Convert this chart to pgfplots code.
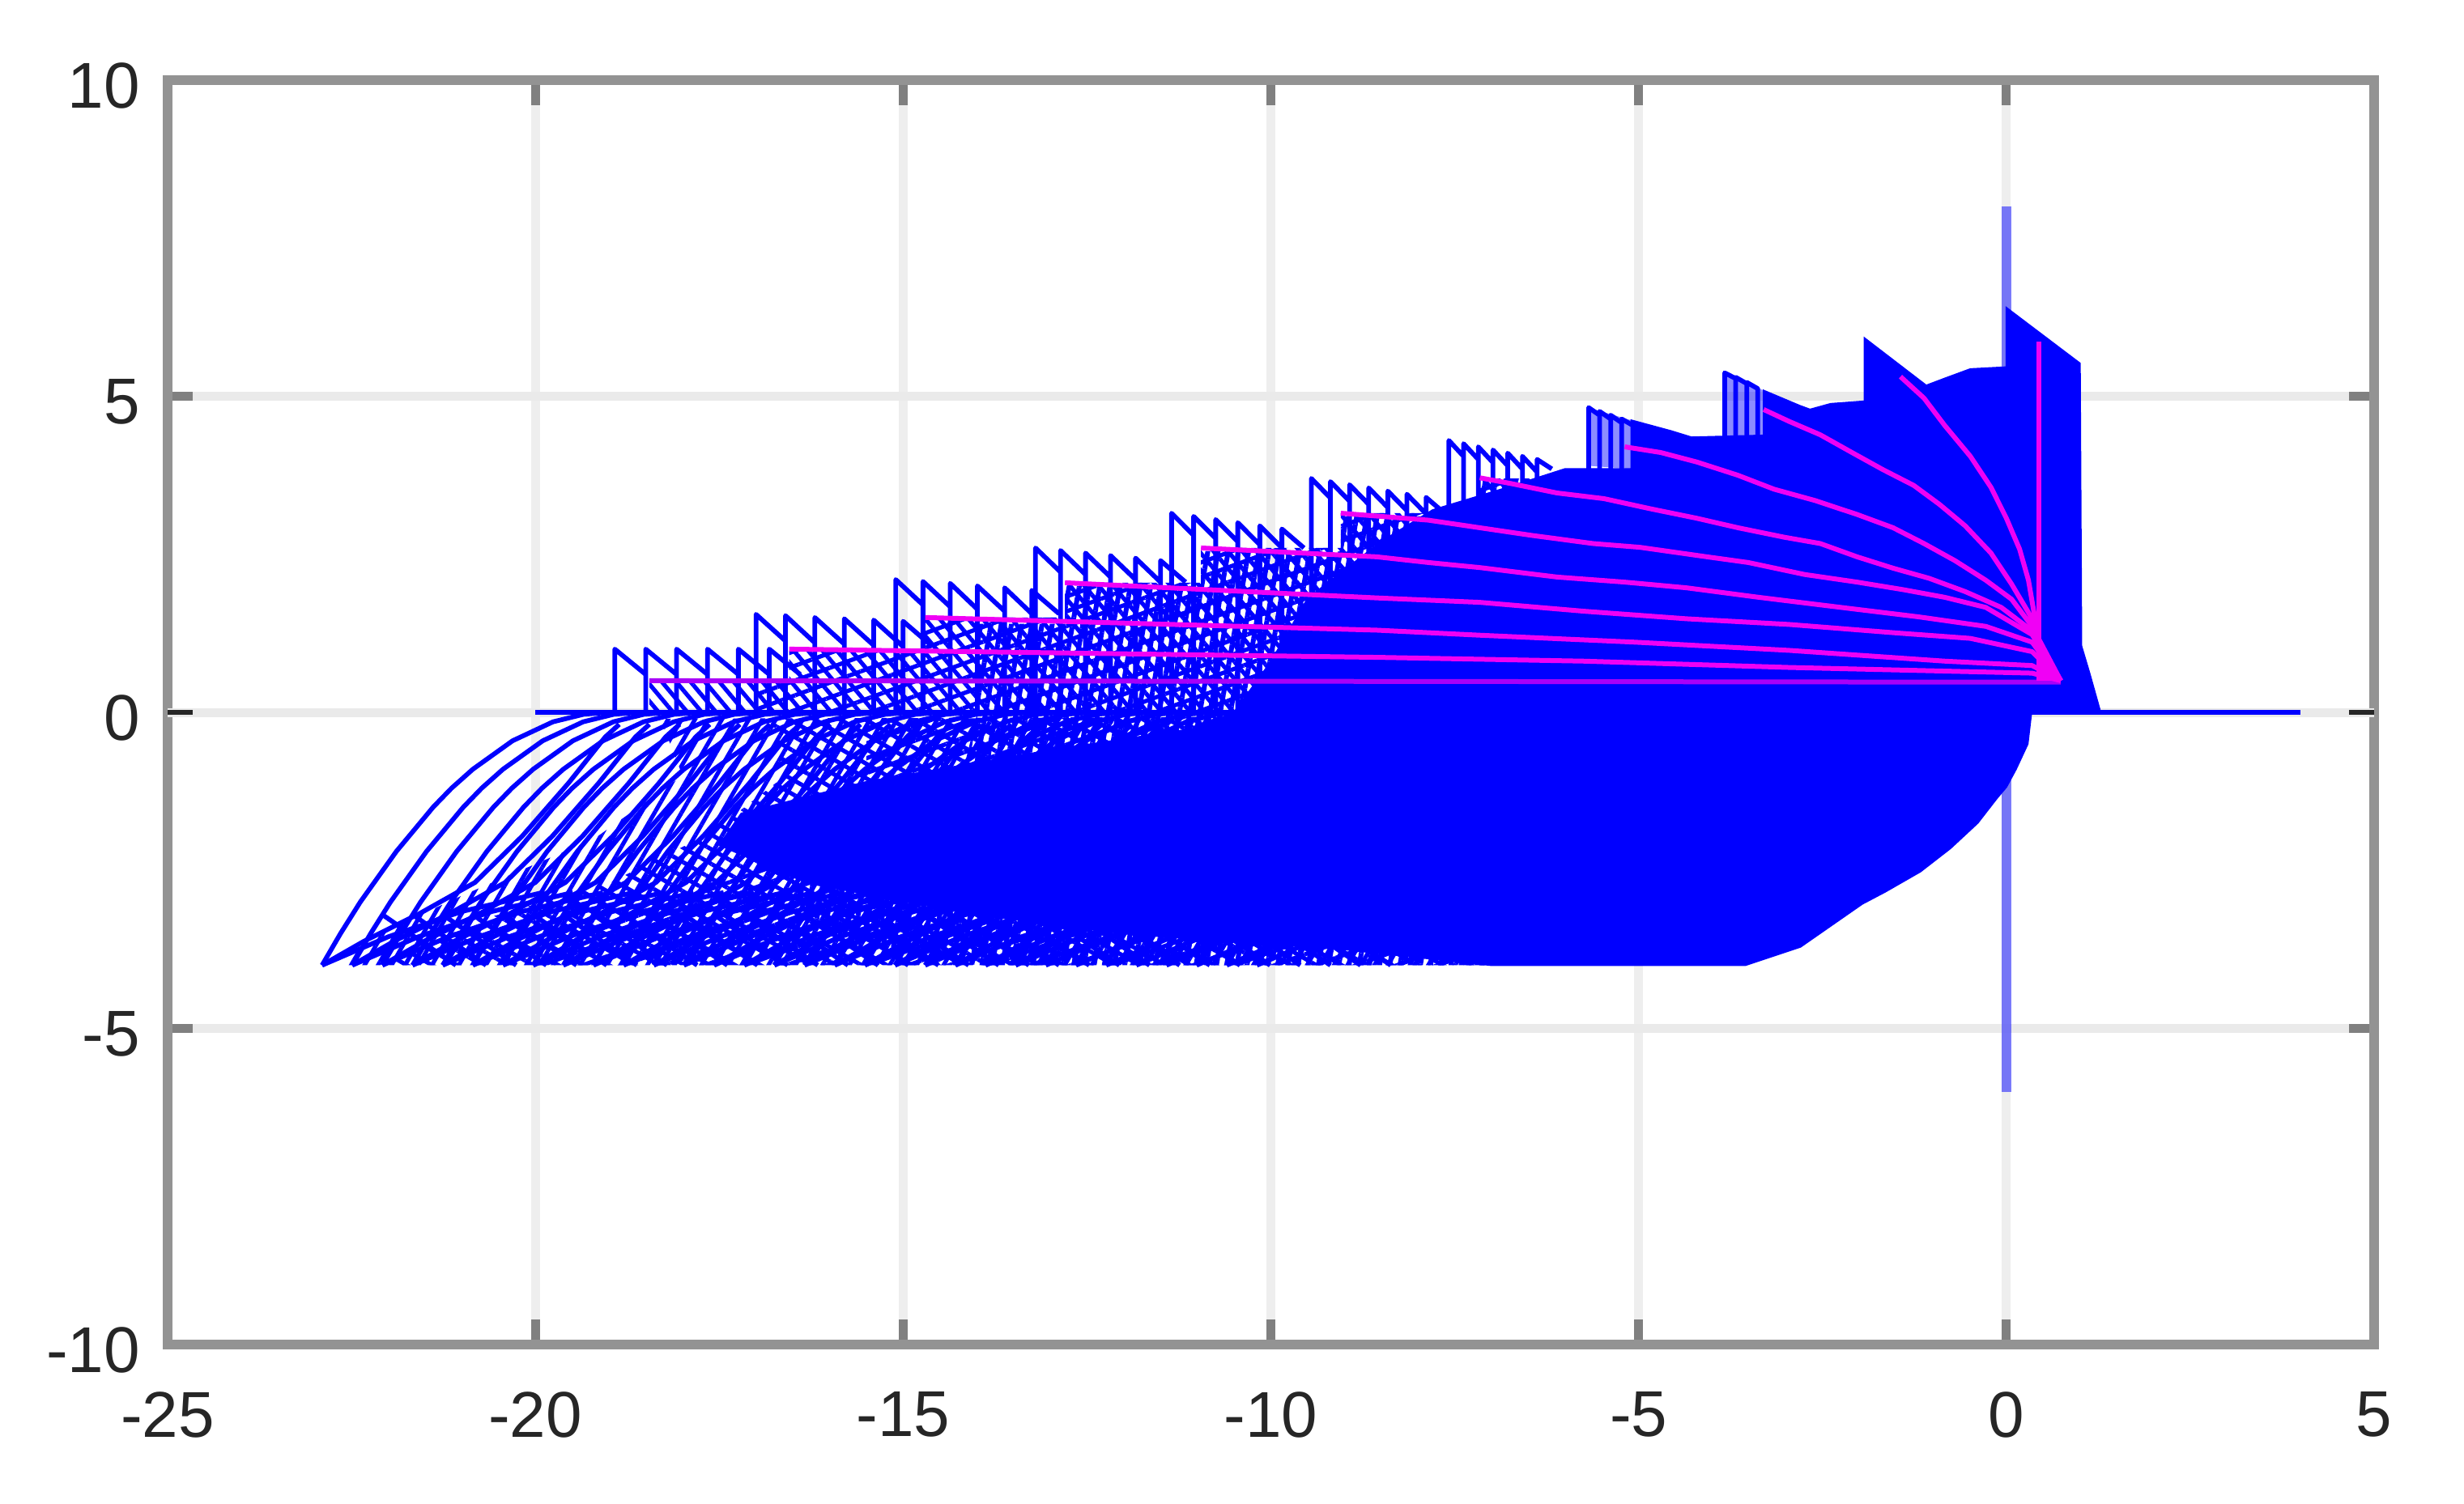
\documentclass[border=0pt]{standalone}
\usepackage{pgfplots}
\usepackage{pgfplotstable}
\usepackage{fontspec}
\usetikzlibrary{patterns.meta}
\setmainfont{Liberation Sans}
\pgfplotsset{compat=1.18}
\definecolor{frameg}{HTML}{939393}
\definecolor{gridx}{HTML}{EEEEEE}
\definecolor{gridy}{HTML}{EAEAEA}
\definecolor{gridz}{HTML}{DEDEDE}
\definecolor{txt}{HTML}{262626}
\definecolor{mag}{HTML}{F000F5}
\pgfplotstableread[header=false]{
-4 -22.90 -22.49 -22.08 -21.67 -21.26 -20.85 -20.44 -20.03 -19.62 -19.21 -18.80 -18.39 -17.98 -17.57 -17.16 -16.75 -16.34 -15.93 -15.52 -15.11 -14.70 -14.29 -13.88 -13.47 -13.06 -12.65 -12.24 -11.83 -11.42 -11.01 -10.60 -10.19
-3.5 -22.65 -22.24 -21.83 -21.42 -21.01 -20.60 -20.19 -19.78 -19.37 -18.96 -18.55 -18.14 -17.73 -17.32 -16.91 -16.50 -16.09 -15.68 -15.27 -14.86 -14.45 -14.04 -13.63 -13.22 -12.81 -12.40 -11.99 -11.58 -11.17 -10.76 -10.35 -9.94
-3 -22.38 -21.97 -21.56 -21.15 -20.74 -20.33 -19.92 -19.51 -19.10 -18.69 -18.28 -17.87 -17.46 -17.05 -16.64 -16.23 -15.82 -15.41 -15.00 -14.59 -14.18 -13.77 -13.36 -12.95 -12.54 -12.13 -11.72 -11.31 -10.90 -10.49 -10.08 -9.67
-2.2 -21.89 -21.48 -21.07 -20.66 -20.25 -19.84 -19.43 -19.02 -18.61 -18.20 -17.79 -17.38 -16.97 -16.56 -16.15 -15.74 -15.33 -14.92 -14.51 -14.10 -13.69 -13.28 -12.87 -12.46 -12.05 -11.64 -11.23 -10.82 -10.41 -10.00 -9.59 -9.18
-1.5 -21.39 -20.98 -20.57 -20.16 -19.75 -19.34 -18.93 -18.52 -18.11 -17.70 -17.29 -16.88 -16.47 -16.06 -15.65 -15.24 -14.83 -14.42 -14.01 -13.60 -13.19 -12.78 -12.37 -11.96 -11.55 -11.14 -10.73 -10.32 -9.91 -9.50 -9.09 -8.68
-1.2 -21.14 -20.73 -20.32 -19.91 -19.50 -19.09 -18.68 -18.27 -17.86 -17.45 -17.04 -16.63 -16.22 -15.81 -15.40 -14.99 -14.58 -14.17 -13.76 -13.35 -12.94 -12.53 -12.12 -11.71 -11.30 -10.89 -10.48 -10.07 -9.66 -9.25 -8.84 -8.43
-0.9 -20.85 -20.44 -20.03 -19.62 -19.21 -18.80 -18.39 -17.98 -17.57 -17.16 -16.75 -16.34 -15.93 -15.52 -15.11 -14.70 -14.29 -13.88 -13.47 -13.06 -12.65 -12.24 -11.83 -11.42 -11.01 -10.60 -10.19 -9.78 -9.37 -8.96 -8.55 -8.14
-0.45 -20.31 -19.90 -19.49 -19.08 -18.67 -18.26 -17.85 -17.44 -17.03 -16.62 -16.21 -15.80 -15.39 -14.98 -14.57 -14.16 -13.75 -13.34 -12.93 -12.52 -12.11 -11.70 -11.29 -10.88 -10.47 -10.06 -9.65 -9.24 -8.83 -8.42 -8.01 -7.60
-0.15 -19.76 -19.35 -18.94 -18.53 -18.12 -17.71 -17.30 -16.89 -16.48 -16.07 -15.66 -15.25 -14.84 -14.43 -14.02 -13.61 -13.20 -12.79 -12.38 -11.97 -11.56 -11.15 -10.74 -10.33 -9.92 -9.51 -9.10 -8.69 -8.28 -7.87 -7.46 -7.05
-0.03 -19.34 -18.93 -18.52 -18.11 -17.70 -17.29 -16.88 -16.47 -16.06 -15.65 -15.24 -14.83 -14.42 -14.01 -13.60 -13.19 -12.78 -12.37 -11.96 -11.55 -11.14 -10.73 -10.32 -9.91 -9.50 -9.09 -8.68 -8.27 -7.86 -7.45 -7.04 -6.63
0 -19.00 -18.59 -18.18 -17.77 -17.36 -16.95 -16.54 -16.13 -15.72 -15.31 -14.90 -14.49 -14.08 -13.67 -13.26 -12.85 -12.44 -12.03 -11.62 -11.21 -10.80 -10.39 -9.98 -9.57 -9.16 -8.75 -8.34 -7.93 -7.52 -7.11 -6.70 -6.29
}\famA
\pgfplotstableread[header=false]{
-4 -22.90 -22.49 -22.08 -21.67 -21.26 -20.85 -20.44 -20.03 -19.62 -19.21 -18.80 -18.39 -17.98 -17.57 -17.16 -16.75 -16.34 -15.93 -15.52 -15.11 -14.70 -14.29 -13.88 -13.47
-3.62 -22.33 -21.92 -21.51 -21.10 -20.69 -20.28 -19.87 -19.46 -19.05 -18.64 -18.23 -17.82 -17.41 -17.00 -16.59 -16.18 -15.77 -15.36 -14.95 -14.54 -14.13 -13.72 -13.31 -12.90
-3.18 -21.57 -21.16 -20.75 -20.34 -19.93 -19.52 -19.11 -18.70 -18.29 -17.88 -17.47 -17.06 -16.65 -16.24 -15.83 -15.42 -15.01 -14.60 -14.19 -13.78 -13.37 -12.96 -12.55 -12.14
-2.69 -20.82 -20.41 -20.00 -19.59 -19.18 -18.77 -18.36 -17.95 -17.54 -17.13 -16.72 -16.31 -15.90 -15.49 -15.08 -14.67 -14.26 -13.85 -13.44 -13.03 -12.62 -12.21 -11.80 -11.39
-1.96 -20.18 -19.77 -19.36 -18.95 -18.54 -18.13 -17.72 -17.31 -16.90 -16.49 -16.08 -15.67 -15.26 -14.85 -14.44 -14.03 -13.62 -13.21 -12.80 -12.39 -11.98 -11.57 -11.16 -10.75
-1.12 -19.55 -19.14 -18.73 -18.32 -17.91 -17.50 -17.09 -16.68 -16.27 -15.86 -15.45 -15.04 -14.63 -14.22 -13.81 -13.40 -12.99 -12.58 -12.17 -11.76 -11.35 -10.94 -10.53 -10.12
-0.39 -19.05 -18.64 -18.23 -17.82 -17.41 -17.00 -16.59 -16.18 -15.77 -15.36 -14.95 -14.54 -14.13 -13.72 -13.31 -12.90 -12.49 -12.08 -11.67 -11.26 -10.85 -10.44 -10.03 -9.62
-0.19 -18.86 -18.45 -18.04 -17.63 -17.22 -16.81 -16.40 -15.99 -15.58 -15.17 -14.76 -14.35 -13.94 -13.53 -13.12 -12.71 -12.30 -11.89 -11.48 -11.07 -10.66 -10.25 -9.84 -9.43
}\famB
\pgfplotstableread[header=false]{
-4 -22.90 -22.49 -22.08 -21.67 -21.26 -20.85 -20.44 -20.03 -19.62 -19.21 -18.80 -18.39 -17.98 -17.57 -17.16 -16.75 -16.34 -15.93 -15.52 -15.11 -14.70 -14.29 -13.88 -13.47 -13.06 -12.65 -12.24 -11.83 -11.42 -11.01 -10.60 -10.19
-3.55 -22.00 -21.59 -21.18 -20.77 -20.36 -19.95 -19.54 -19.13 -18.72 -18.31 -17.90 -17.49 -17.08 -16.67 -16.26 -15.85 -15.44 -15.03 -14.62 -14.21 -13.80 -13.39 -12.98 -12.57 -12.16 -11.75 -11.34 -10.93 -10.52 -10.11 -9.70 -9.29
-3.15 -21.00 -20.59 -20.18 -19.77 -19.36 -18.95 -18.54 -18.13 -17.72 -17.31 -16.90 -16.49 -16.08 -15.67 -15.26 -14.85 -14.44 -14.03 -13.62 -13.21 -12.80 -12.39 -11.98 -11.57 -11.16 -10.75 -10.34 -9.93 -9.52 -9.11 -8.70 -8.29
-2.85 -19.90 -19.49 -19.08 -18.67 -18.26 -17.85 -17.44 -17.03 -16.62 -16.21 -15.80 -15.39 -14.98 -14.57 -14.16 -13.75 -13.34 -12.93 -12.52 -12.11 -11.70 -11.29 -10.88 -10.47 -10.06 -9.65 -9.24 -8.83 -8.42 -8.01 -7.60 -7.19
}\famC
\pgfplotstableread[header=false]{
-3.2 -22.08 -21.67 -21.26 -20.85 -20.44 -20.03 -19.62 -19.21 -18.80 -18.39 -17.98 -17.57 -17.16 -16.75 -16.34 -15.93 -15.52 -15.11 -14.70 -14.29 -13.88 -13.47 -13.06 -12.65 -12.24 -11.83 -11.42 -11.01 -10.60 -10.19 -9.78 -9.37
-4 -21.08 -20.67 -20.26 -19.85 -19.44 -19.03 -18.62 -18.21 -17.80 -17.39 -16.98 -16.57 -16.16 -15.75 -15.34 -14.93 -14.52 -14.11 -13.70 -13.29 -12.88 -12.47 -12.06 -11.65 -11.24 -10.83 -10.42 -10.01 -9.60 -9.19 -8.78 -8.37
}\famD
\begin{document}
\begin{tikzpicture}
\path (-51.75pt,-49pt) rectangle (709pt,415.25pt);
\begin{axis}[
  scale only axis, width=681.25pt, height=390.5pt,
  xmin=-25, xmax=5, ymin=-10, ymax=10,
  xtick={-25,-20,-15,-10,-5,0,5},
  xticklabels={-25,-20,-15,-10,-5,0,5},
  ytick={-10,-5,5,10},
  yticklabels={-10,-5,5,10},
  extra y ticks={0}, extra y tick labels={0},
  extra y tick style={grid style={line width=1.6pt,color=gridz},
     major tick style={line width=1.6pt,color=txt}},
  tick align=inside, tick pos=both,
  major tick length=7.75pt,
  major tick style={line width=2.75pt,color=gray},
  xmajorgrids, ymajorgrids,
  x grid style={line width=2.75pt,color=gridx},
  y grid style={line width=2.75pt,color=gridy},
  axis line style={line width=3pt,color=frameg},
  tick label style={font=\fontsize{20}{20}\selectfont,text=txt},
  xticklabel style={yshift=-11pt},
  yticklabel style={xshift=-5pt,yshift=-1.75pt},
  fam/.style={draw=blue,line width=1.45pt,no marks,line join=round},
  cyc/.style={draw=mag,line width=1.5pt,no marks,line join=round},
  hatchA/.style={draw=none,no marks,pattern color=blue,pattern={Lines[angle=60,distance=3.6pt,line width=1.3pt]}},
  hatchB/.style={draw=none,no marks,pattern color=blue,pattern={Lines[angle=-30,distance=3.9pt,line width=1.3pt]}},
  hatchC/.style={draw=none,no marks,pattern color=blue,pattern={Lines[angle=20,distance=4.3pt,line width=1.3pt]}},
  hatchD/.style={draw=none,no marks,pattern color=blue,pattern={Lines[angle=-50,distance=3.4pt,line width=1.3pt]}},
  hatchE/.style={draw=none,no marks,pattern color=blue,pattern={Lines[angle=80,distance=3.1pt,line width=1.5pt]}},
]
% pale line at x = 0
\addplot[draw=blue,opacity=.5,line width=2.9pt,no marks,forget plot] coordinates {(0,8) (0,-6)};
% dense textures below and above the base line
\addplot[hatchA] coordinates {(-18.3,-.1)(-18,-1)(-19.2,-2)(-21,-2.9)(-22.3,-3.6)(-22.6,-4)(-5,-4)(-5,-.05)};
\addplot[hatchB] coordinates {(-16.8,-.1)(-16.6,-1)(-17.6,-1.9)(-19,-2.7)(-20.8,-3.3)(-22,-4)(-5,-4)(-5,-.05)};
\addplot[hatchC] coordinates {(-15.5,-.1)(-15.5,-1)(-16.2,-1.9)(-17.5,-2.7)(-19,-3.2)(-20,-4)(-5,-4)(-5,-.05)};
\addplot[hatchE] coordinates {(-14,-.05)(-14.2,-1)(-15.5,-2)(-16.5,-2.9)(-16,-3.5)(-14,-4)(-5,-4)(-5,-.05)};
\addplot[hatchD] coordinates {(-18.45,0)(-18.45,.48)(-16.55,.48)(-16.55,1)(-14.7,1)(-14.7,1.5)(-12.8,1.5)(-12.8,2.05)(-10.95,2.05)(-10.95,2.6)(-9.05,2.6)(-9.05,3.15)(-7.2,3.15)(-7.2,3.7)(-5,3.7)(-5,0)};
\addplot[hatchC] coordinates {(-17,0)(-17,.48)(-16.55,.48)(-16.55,1)(-14.7,1)(-14.7,1.5)(-12.8,1.5)(-12.8,2.05)(-10.95,2.05)(-10.95,2.6)(-9.05,2.6)(-9.05,3.15)(-7.2,3.15)(-7.2,3.7)(-5,3.7)(-5,0)};
\addplot[hatchE] coordinates {(-14,0)(-14,1.4)(-12.8,1.4)(-12.8,2)(-10.95,2)(-10.95,2.55)(-9.05,2.55)(-9.05,3.1)(-7.2,3.1)(-7.2,3.7)(-5,3.7)(-5,0)};
% solid body
\addplot[fill=blue,draw=blue,line width=.5pt,no marks] coordinates {
(-3.55,-4)(-7,-4)(-9,-3.75)(-12,-3.5)(-14,-3.2)(-16.3,-2.7)(-17.5,-2.1)(-17.2,-1.6)(-15.5,-1.1)(-13,-.6)(-11,-.25)
(-10.5,0)(-10,.8)(-9.5,1.8)(-8.5,2.7)(-7.8,3.2)(-6.8,3.55)(-6,3.85)(-5.1,3.85)(-5.1,4.62)(-4.56,4.45)(-4.28,4.35)
(-3.3,4.38)(-3.3,5.09)(-2.81,4.85)(-2.67,4.79)(-2.39,4.88)(-1.93,4.92)(-1.93,5.92)(-1.09,5.17)(-.84,5.28)(-.49,5.43)
(0,5.46)(0,6.4)(1,5.52)(1.02,1.05)(1.13,.62)(1.27,.04)(1.27,0)(.34,0)(.29,-.5)(.13,-.9)(0,-1.18)(-.13,-1.36)(-.39,-1.75)
(-.76,-2.15)(-1.17,-2.52)(-1.65,-2.84)(-1.96,-3.03)(-2.8,-3.71)(-3.55,-4)};
% paler stripes
\addplot[fill=blue,fill opacity=.45,draw=none,no marks] coordinates {(-5.68,3.9)(-5.68,4.82)(-5.1,4.62)(-5.1,3.85)};
\addplot[fill=blue,fill opacity=.45,draw=none,no marks] coordinates {(-3.83,4.38)(-3.83,5.37)(-3.3,5.09)(-3.3,4.38)};
% arcs
\pgfplotsinvokeforeach{1,...,32}{\addplot[fam] table[x index=#1,y index=0]{\famA};}
\pgfplotsinvokeforeach{1,...,24}{\addplot[fam] table[x index=#1,y index=0]{\famB};}
\pgfplotsinvokeforeach{1,...,32}{\addplot[fam] table[x index=#1,y index=0]{\famC};}
\pgfplotsinvokeforeach{1,...,32}{\addplot[fam] table[x index=#1,y index=0]{\famD};}
% base line
\addplot[draw=blue,line width=1.6pt,no marks] coordinates {(-20,0)(4,0)};
% teeth
\addplot[fam] coordinates {(-18.92,0)(-18.92,1)(-18.5,.6)(-18.5,0)(-18.5,1)(-18.08,.6)(-18.08,0)(-18.08,1)(-17.66,.6)(-17.66,0)(-17.66,1)(-17.24,.6)(-17.24,0)(-17.24,1)(-16.82,.6)(-16.82,0)(-16.82,1)(-16.4,.6)};
\addplot[fam] coordinates {(-17,0)(-17,1.55)(-16.6,1.13)(-16.6,0)(-16.6,1.53)(-16.2,1.1)(-16.2,0)(-16.2,1.5)(-15.8,1.08)(-15.8,0)(-15.8,1.48)(-15.4,1.06)(-15.4,0)(-15.4,1.46)(-15,1.04)(-15,0)(-15,1.44)(-14.6,1.04)};
\addplot[fam] coordinates {(-15.1,0)(-15.1,2.1)(-14.73,1.7)(-14.73,0)(-14.73,2.07)(-14.36,1.67)(-14.36,0)(-14.36,2.04)(-13.99,1.63)(-13.99,0)(-13.99,2)(-13.62,1.6)(-13.62,0)(-13.62,1.97)(-13.25,1.56)(-13.25,0)(-13.25,1.93)(-12.88,1.56)};
\addplot[fam] coordinates {(-13.2,0)(-13.2,2.6)(-12.86,2.22)(-12.86,0)(-12.86,2.56)(-12.52,2.18)(-12.52,0)(-12.52,2.52)(-12.18,2.14)(-12.18,0)(-12.18,2.48)(-11.84,2.1)(-11.84,0)(-11.84,2.44)(-11.5,2.06)(-11.5,0)(-11.5,2.4)(-11.16,2.06)};
\addplot[fam] coordinates {(-11.35,0)(-11.35,3.15)(-11.05,2.8)(-11.05,0)(-11.05,3.1)(-10.75,2.75)(-10.75,0)(-10.75,3.05)(-10.45,2.7)(-10.45,0)(-10.45,3)(-10.15,2.65)(-10.15,0)(-10.15,2.95)(-9.85,2.6)(-9.85,0)(-9.85,2.9)(-9.55,2.6)};
\addplot[fam] coordinates {(-9.45,0)(-9.45,3.7)(-9.19,3.39)(-9.19,0)(-9.19,3.65)(-8.93,3.34)(-8.93,0)(-8.93,3.6)(-8.67,3.29)(-8.67,0)(-8.67,3.55)(-8.41,3.24)(-8.41,0)(-8.41,3.5)(-8.15,3.19)(-8.15,0)(-8.15,3.45)(-7.89,3.14)(-7.89,0)(-7.89,3.4)(-7.63,3.14)};
\addplot[fam] coordinates {(-7.58,3)(-7.58,4.3)(-7.38,4.05)(-7.38,3)(-7.38,4.25)(-7.18,4)(-7.18,3)(-7.18,4.2)(-6.98,3.95)(-6.98,3)(-6.98,4.15)(-6.78,3.9)(-6.78,3)(-6.78,4.1)(-6.58,3.85)(-6.58,3)(-6.58,4.05)(-6.38,3.8)(-6.38,3)(-6.38,4)(-6.18,3.85)};
\addplot[fam] coordinates {(-5.68,3.8)(-5.68,4.82)(-5.53,4.7)(-5.53,3.8)(-5.53,4.76)(-5.38,4.64)(-5.38,3.8)(-5.38,4.7)(-5.23,4.58)(-5.23,3.8)(-5.23,4.64)(-5.08,4.54)};
\addplot[fam] coordinates {(-3.83,4.3)(-3.83,5.37)(-3.68,5.28)(-3.68,4.3)(-3.68,5.3)(-3.53,5.2)(-3.53,4.3)(-3.53,5.22)(-3.38,5.12)(-3.38,4.3)};
% magenta curves
\addplot[cyc,draw=mag!70!blue] coordinates {(-18.45,.5)(-9,.49)(-2,.48)(.74,.48)};
\addplot[cyc] coordinates {(-16.55,1)(-8.56,.87)(-5.75,.81)(-2.95,.71)(.35,.62)(.74,.5)};
\addplot[cyc] coordinates {(-14.7,1.5)(-8.56,1.3)(-7.16,1.22)(-5.05,1.11)(-2.95,.98)(-.84,.81)(.35,.74)(.74,.5)};
\addplot[cyc] coordinates {(-12.8,2.05)(-8.56,1.81)(-7.16,1.74)(-5.75,1.6)(-4.35,1.48)(-2.95,1.39)(-1.54,1.26)(-.49,1.17)(.35,.96)(.74,.5)};
\addplot[cyc] coordinates {(-10.95,2.6)(-8.56,2.46)(-7.86,2.37)(-7.16,2.29)(-6.11,2.14)(-5.19,2.06)(-4.35,1.97)(-3.37,1.82)(-2.25,1.66)(-1.19,1.51)(-.28,1.36)(.35,1.11)(.74,.5)};
\addplot[cyc] coordinates {(-9.05,3.15)(-7.86,3.04)(-7.16,2.92)(-6.46,2.8)(-5.62,2.67)(-4.98,2.61)(-4.07,2.46)(-3.51,2.37)(-2.74,2.18)(-2.03,2.06)(-1.4,1.94)(-.84,1.82)(-.28,1.66)(.35,1.23)(.74,.5)};
\addplot[cyc] coordinates {(-7.16,3.71)(-6.74,3.62)(-6.11,3.47)(-5.47,3.38)(-4.84,3.22)(-4.21,3.07)(-3.65,2.92)(-3.02,2.77)(-2.53,2.67)(-2.03,2.46)(-1.54,2.28)(-1.05,2.12)(-.56,1.91)(-.07,1.66)(.35,1.29)(.74,.5)};
\addplot[cyc] coordinates {(-5.19,4.2)(-4.7,4.11)(-4.21,3.96)(-3.65,3.75)(-3.16,3.53)(-2.6,3.35)(-2.03,3.13)(-1.54,2.92)(-1.12,2.67)(-.7,2.4)(-.28,2.09)(.07,1.79)(.35,1.36)(.74,.5)};
\addplot[cyc] coordinates {(-3.3,4.79)(-2.95,4.6)(-2.53,4.39)(-2.1,4.11)(-1.68,3.84)(-1.26,3.59)(-.91,3.29)(-.56,2.95)(-.21,2.52)(.07,2.03)(.32,1.54)(.46,.93)(.74,.5)};
\addplot[cyc] coordinates {(-1.44,5.31)(-1.12,4.97)(-.84,4.54)(-.49,4.05)(-.21,3.56)(0,3.07)(.18,2.58)(.3,2.09)(.39,1.48)(.46,.74)};
\addplot[cyc] coordinates {(.44,5.87)(.44,.5)};
\addplot[fill=mag,draw=none,no marks] coordinates {(.44,1.05)(.74,.5)(.44,.5)};
\end{axis}
\end{tikzpicture}
\end{document}
